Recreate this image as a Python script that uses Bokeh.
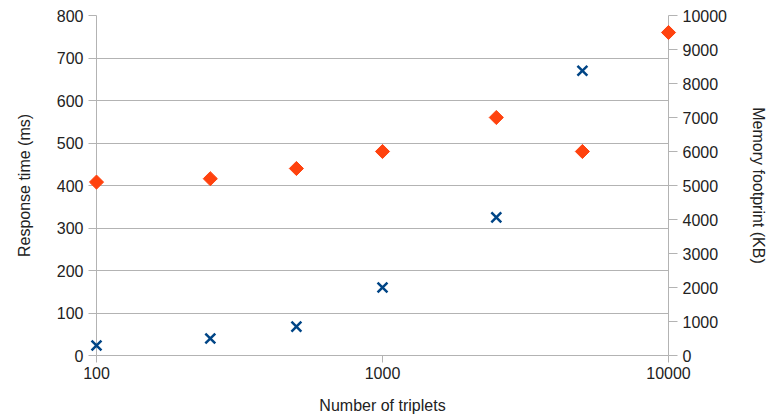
import math
from bokeh.plotting import figure
from bokeh.models import Range1d, LinearAxis, FixedTicker, SingleIntervalTicker
from bokeh.embed import file_html
from bokeh.resources import INLINE

# Data
x_labels = [100, 1000, 10000]
resp_x = [100, 250, 500, 1000, 2500, 5000]
resp_ms = [23.5, 40, 68, 160, 325, 670]
mem_x = [100, 250, 500, 1000, 2500, 5000, 10000]
mem_kb = [5100, 5200, 5500, 6000, 7000, 6000, 9500]

FONT = "Liberation Sans"
FS = "16px"
TICK_COLOR = "#222222"
GRID = "#b3b3b3"

p = figure(width=770, height=418,
           x_axis_type="log", x_range=Range1d(100, 10000), y_range=Range1d(0, 800),
           output_backend="svg", toolbar_location=None,
           min_border_left=96, min_border_right=102, min_border_top=15, min_border_bottom=63)
p.outline_line_color = None
p.background_fill_color = "white"

p.extra_y_ranges = {"mem": Range1d(0, 10000)}

# x axis
xa = p.xaxis[0]
xa.ticker = FixedTicker(ticks=x_labels, minor_ticks=[])
xa.major_label_overrides = {v: str(v) for v in x_labels}
xa.axis_label = "Number of triplets"

# left axis
ya = p.yaxis[0]
ya.ticker = SingleIntervalTicker(interval=100, num_minor_ticks=0)
ya.axis_label = "Response time (ms)"

# right axis
ra = LinearAxis(y_range_name="mem", axis_label="Memory footprint (KB)",
                ticker=SingleIntervalTicker(interval=1000, num_minor_ticks=0))
p.add_layout(ra, "right")

for ax in [xa, ya, ra]:
    ax.axis_line_color = GRID
    ax.major_tick_line_color = GRID
    ax.minor_tick_line_color = None
    ax.major_tick_in = 0
    ax.major_label_text_font = FONT
    ax.major_label_text_font_size = FS
    ax.major_label_text_color = TICK_COLOR
    ax.axis_label_text_font = FONT
    ax.axis_label_text_font_size = FS
    ax.axis_label_text_font_style = "normal"
    ax.axis_label_text_color = "#222222"

xa.major_tick_out = 7
xa.major_label_standoff = 4
xa.axis_label_standoff = 15
ya.major_tick_out = 8
ya.major_label_standoff = 5
ya.axis_label_standoff = 21
ra.major_tick_out = 9
ra.major_label_standoff = 5
ra.axis_label_standoff = 20

p.xgrid.grid_line_color = None
p.ygrid.grid_line_color = GRID
p.ygrid.grid_line_width = 1

p.scatter(mem_x, mem_kb, y_range_name="mem", marker="square", size=10,
          angle=math.pi / 4, fill_color="#ff420e", line_color="#ff420e", level="overlay")
p.scatter(resp_x, resp_ms, marker="x", size=14, line_color="#004586", line_width=2.5,
          level="overlay")

open("out.html", "w").write(file_html(p, INLINE))
